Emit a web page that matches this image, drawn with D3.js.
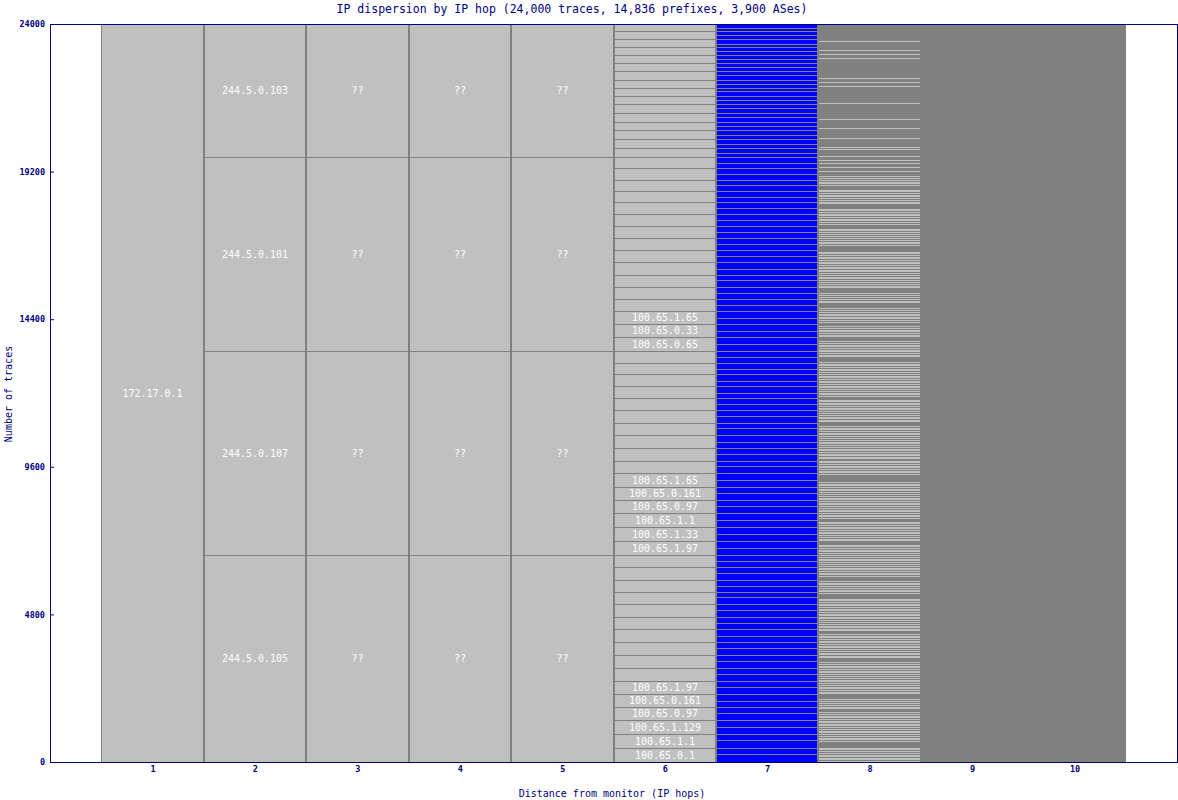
<!DOCTYPE html>
<html><head><meta charset="utf-8">
<script src="https://cdn.jsdelivr.net/npm/d3@7"></script>
<style>body{margin:0;background:#fff}svg text{font-family:"DejaVu Sans Mono",monospace}</style>
</head><body><svg id="c" width="1178" height="800"></svg>
<script>
// ---------------- DATA (segments listed from the top of each column) ----------------
const hops = [1,2,3,4,5,6,7,8,9,10];
const yTicks = [0,4800,9600,14400,19200,24000];
const titleText = "IP dispersion by IP hop (24,000 traces, 14,836 prefixes, 3,900 ASes)";
const xTitle = "Distance from monitor (IP hops)";
const yTitle = "Number of traces";

const hop1Traces = [24000];
const hop1Labels = ["172.17.0.1"];

const hop2Traces = [4325,6309,6634,6732];
const hop2Labels = ["244.5.0.103","244.5.0.101","244.5.0.107","244.5.0.105"];
const hop3Traces = [4325,6309,6634,6732];
const hop3Labels = ["??","??","??","??"];
const hop4Traces = [4325,6309,6634,6732];
const hop4Labels = ["??","??","??","??"];
const hop5Traces = [4325,6309,6634,6732];
const hop5Labels = ["??","??","??","??"];

const hop6Traces = [
 240,260,260,260,248,260,280,260,260,283,283,280,283,283,302,283,
 367,367,371,367,393,390,390,390,390,413,390,390,390,413,433,455,
 390,367,390,380,405,410,390,413,433,390,455,413,433,455,455,455,
 390,423,390,390,413,413,410,436,410,413,433,436,410,455,455,455];
const hop6Labels = [
 "","","","","","","","","","","","","","","","",
 "","","","","","","","","","","","","","100.65.1.65","100.65.0.33","100.65.0.65",
 "","","","","","","","","","","100.65.1.65","100.65.0.161","100.65.0.97","100.65.1.1","100.65.1.33","100.65.1.97",
 "","","","","","","","","","","100.65.1.97","100.65.0.161","100.65.0.97","100.65.1.129","100.65.1.1","100.65.0.1"];

const hop7Traces = [
 125,115,128,132,140,120,132,128,130,118,129,131,130,150,131,129,127,133,153,130,130,153,130,150,130,153,153,130,172,130,153,130,
 180,187,190,177,178,193,185,182,195,198,196,194,192,198,198,192,197,193,205,208,172,218,198,192,185,205,228,185,247,186,237,218,
 205,185,186,181,208,182,208,172,210,195,195,215,176,214,218,195,218,215,176,214,240,215,195,218,218,215,218,237,240,215,218,237,
 196,194,195,228,194,196,176,214,195,218,218,195,215,195,195,241,195,215,195,218,218,215,218,218,195,215,218,237,195,260,195,260];

// hop 8: [traces, distinct addresses]; blocks of many addresses are too thin to show their fill
const hop8Segments = [
 [510,40],[65,1],[228,18],[65,1],[65,5],[65,1],[65,5],[65,1],[585,45],[65,1],[65,5],[65,1],[65,5],[65,1],
 [488,38],[65,1],[455,35],[65,1],[228,18],[65,1],[260,20],[65,1],[228,18],[65,1],[65,1],[163,13],[65,1],
 [65,5],[65,1],[55,4],[65,1],[52,4],[65,1],[78,6],[65,1],[85,7],[65,1],[65,1],
 [75,1],[80,1],[65,1],[120,10],[85,1],[70,1],[90,1],[75,1],[68,1],[80,1],[140,12],
 [90,1],[70,1],[85,1],[75,1],[95,1],[65,1],[80,1],[100,8],[88,1],[70,1],[65,1],[65,1],
 [70,1],[65,1],[85,1],[78,1],[160,14],[80,1],[75,1],[90,1],[65,1],[95,1],[85,1],
 [80,1],[95,1],[70,1],[65,1],[88,1],[72,1],[85,1],[65,1],[90,1],[110,9],[68,1],[60,1],
 [65,1],[75,1],[90,1],[130,11],[70,1],[80,1],[65,1],[95,1],[78,1],[85,1],[65,1],[50,4],
 [85,1],[65,1],[70,1],[95,1],[80,1],[90,8],[75,1],[68,1],[100,1],[72,1],[83,1],[65,1],
 [95,1],[150,12],[65,1],[80,1],[75,1],[88,1],[70,1],[65,1],[90,1],[85,1],[85,1],
 [70,1],[80,1],[90,1],[65,1],[85,1],[75,1],[70,6],[95,1],[68,1],[80,1],[85,1],[85,1],
 [65,1],[65,1],[88,1],[92,1],[115,10],[70,1],[80,1],[75,1],[95,1],[68,1],[70,1],[65,1],
 [80,1],[75,1],[70,1],[95,1],[65,1],[85,1],[90,1],[60,5],[78,1],[72,1],[88,1],[90,1],
 [90,1],[68,1],[180,15],[75,1],[80,1],[65,1],[95,1],[70,1],[85,1],[70,1],[70,1],
 [75,1],[85,1],[65,1],[80,1],[90,1],[70,1],[95,1],[65,1],[75,6],[88,1],[80,1],[80,1],
 [65,1],[90,1],[75,1],[85,1],[70,1],[125,10],[80,1],[68,1],[95,1],[65,1],[65,1],[65,1],
 [85,1],[70,1],[80,1],[65,1],[95,1],[75,1],[90,1],[70,1],[85,7],[68,1],[85,1],[80,1],
 [70,1],[95,1],[65,1],[140,12],[80,1],[75,1],[85,1],[68,1],[90,1],[65,1],[115,1],
 [80,1],[65,1],[85,1],[70,1],[90,1],[75,1],[95,8],[65,1],[88,1],[72,1],[80,1],[83,1],
 [95,1],[70,1],[65,1],[80,1],[85,1],[110,9],[75,1],[68,1],[90,1],[70,1],[75,1],[65,1],
 [65,1],[85,1],[90,1],[70,1],[75,1],[80,1],[65,1],[95,1],[130,11],[78,1],[60,1],[55,1],
 [88,1],[72,1],[70,6],[85,1],[65,1],[90,1],[75,1],[80,1],[95,1],[65,1],[83,1],[80,1],
 [70,1],[80,1],[95,1],[65,1],[160,13],[75,1],[85,1],[68,1],[90,1],[80,1],[80,1]];

const hop9Segments = [[24000,18000]];
const hop10Segments = [[24000,20000]];

// ---------------- CHART ----------------
const svg = d3.select("#c");
const navy = "#000080", lineGray = "#808080", lightGray = "#c0c0c0", blue = "#0000ff";
const x = d3.scaleLinear().domain([0, 11]).range([50, 1177]);
const y = d3.scaleLinear().domain([0, 24000]).range([762, 24]);

const fromTraces = (traces, labels) => traces.map((t, i) => ({t, n: 1, label: labels ? labels[i] : ""}));
const fromPairs = pairs => pairs.map(p => ({t: p[0], n: p[1], label: ""}));

const columns = [
  {hop: 1, segs: fromTraces(hop1Traces, hop1Labels), fill: lightGray},
  {hop: 2, segs: fromTraces(hop2Traces, hop2Labels), fill: lightGray},
  {hop: 3, segs: fromTraces(hop3Traces, hop3Labels), fill: lightGray},
  {hop: 4, segs: fromTraces(hop4Traces, hop4Labels), fill: lightGray},
  {hop: 5, segs: fromTraces(hop5Traces, hop5Labels), fill: lightGray},
  {hop: 6, segs: fromTraces(hop6Traces, hop6Labels), fill: lightGray},
  {hop: 7, segs: fromTraces(hop7Traces, null), fill: blue},
  {hop: 8, segs: fromPairs(hop8Segments), fill: lightGray},
  {hop: 9, segs: fromPairs(hop9Segments), fill: lightGray},
  {hop: 10, segs: fromPairs(hop10Segments), fill: lightGray}
];

columns.forEach(col => {
  const x0 = Math.round(x(col.hop - 0.5)), x1 = Math.round(x(col.hop + 0.5));
  let cum = 24000;
  col.segs.forEach(s => {
    s.top = cum; cum -= s.t; s.bot = cum;
    s.y0 = Math.round(y(s.top)); s.y1 = Math.round(y(s.bot));
    s.dense = s.n > 1;
  });
  const g = svg.append("g").attr("shape-rendering", "crispEdges");
  g.selectAll("rect.fill").data(col.segs).join("rect").attr("class", "fill")
    .attr("x", x0).attr("width", x1 - x0)
    .attr("y", d => d.y0).attr("height", d => Math.max(0, d.y1 - d.y0))
    .attr("fill", d => d.dense ? lineGray : col.fill);
  g.selectAll("rect.edge").data(col.segs.filter(d => !d.dense)).join("rect").attr("class", "edge")
    .attr("x", x0).attr("width", x1 - x0)
    .attr("y", d => d.y0).attr("height", 1).attr("fill", lineGray);
  g.append("rect").attr("x", x0).attr("y", 24).attr("width", 1).attr("height", 738).attr("fill", lineGray);
  g.append("rect").attr("x", x1 - 1).attr("y", 24).attr("width", 1).attr("height", 738).attr("fill", lineGray);
  g.selectAll("text").data(col.segs.filter(d => d.label)).join("text")
    .attr("x", (x0 + x1) / 2).attr("y", d => (d.y0 + d.y1) / 2)
    .attr("text-anchor", "middle").attr("dominant-baseline", "central")
    .attr("fill", "#ffffff").attr("font-size", 10).text(d => d.label);
});

// axes
const yAxis = svg.append("g").attr("transform", "translate(50,0)")
  .call(d3.axisLeft(y).tickValues(yTicks).tickSizeInner(-4).tickSizeOuter(0).tickPadding(5).tickFormat(d3.format("d")));
yAxis.select(".domain").remove();
yAxis.selectAll("line").attr("stroke", navy);
yAxis.selectAll("text").attr("fill", navy).attr("font-size", 8.5).attr("font-weight", "bold")
  .attr("font-family", "DejaVu Sans Mono, monospace");

const xAxis = svg.append("g").attr("transform", "translate(0,762)")
  .call(d3.axisBottom(x).tickValues(hops).tickSize(0).tickPadding(4));
xAxis.select(".domain").remove();
xAxis.selectAll("text").attr("fill", navy).attr("font-size", 8.5).attr("font-weight", "bold")
  .attr("font-family", "DejaVu Sans Mono, monospace");

svg.append("rect").attr("x", 50.5).attr("y", 24.5).attr("width", 1127).attr("height", 738)
  .attr("fill", "none").attr("stroke", navy).attr("stroke-width", 1);

svg.append("text").attr("x", 572).attr("y", 13).attr("text-anchor", "middle")
  .attr("fill", navy).attr("font-size", 11.5).text(titleText);
svg.append("text").attr("x", 612).attr("y", 797).attr("text-anchor", "middle")
  .attr("fill", navy).attr("font-size", 10).text(xTitle);
svg.append("text").attr("transform", "translate(12,394) rotate(-90)").attr("text-anchor", "middle")
  .attr("fill", navy).attr("font-size", 10).text(yTitle);
</script></body></html>
